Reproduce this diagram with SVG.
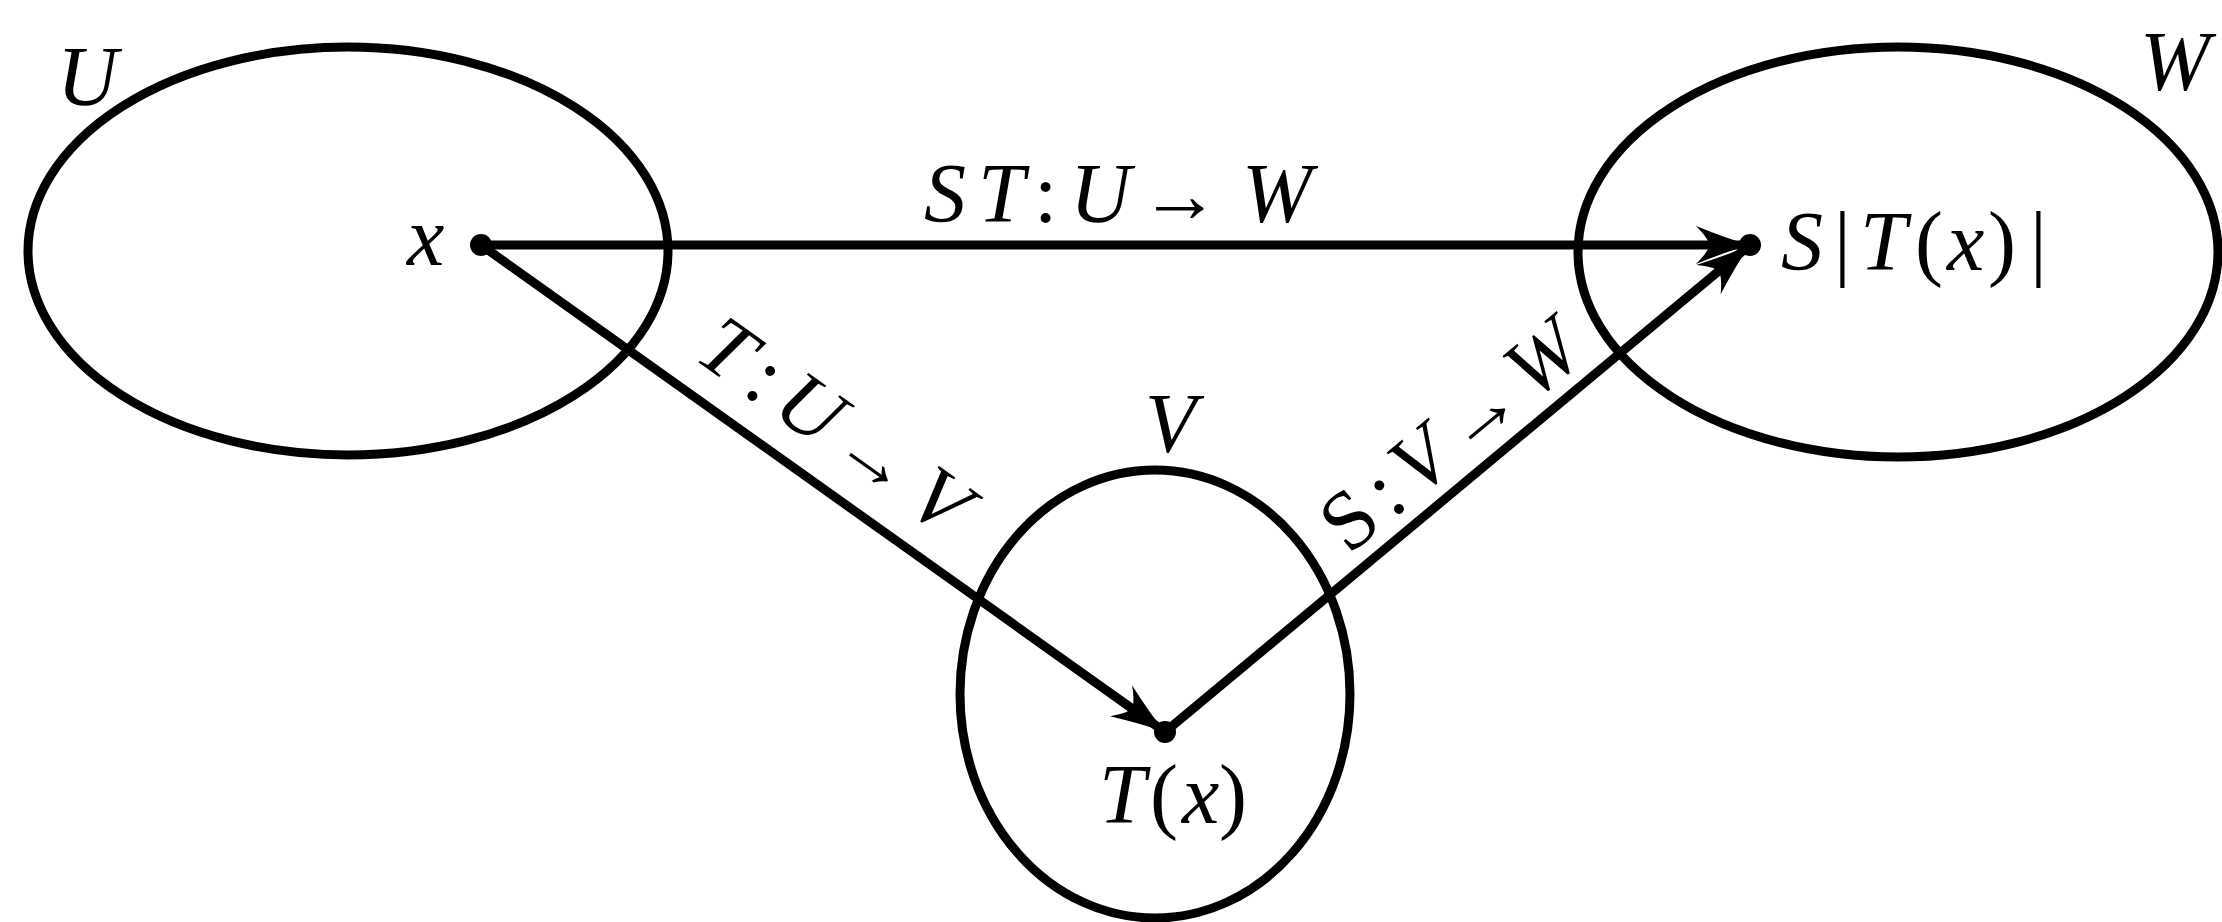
<svg xmlns="http://www.w3.org/2000/svg" width="2222" height="922" viewBox="0 0 2222 922">
<defs>
<style>
.set{fill:none;stroke:#000;stroke-width:9}
.edge{fill:none;stroke:#000;stroke-width:9}
.dot{fill:#000}
</style>
<marker id="ah" viewBox="-60 -25 70 50" refX="0" refY="0" markerWidth="70" markerHeight="50" markerUnits="userSpaceOnUse" orient="auto" overflow="visible">
<path d="M0,0 Q-22,-6 -54,-19 Q-41,-6 -41,0 Q-41,6 -54,19 Q-22,6 0,0 Z" fill="#000"/>
</marker>
</defs>
<rect width="2222" height="922" fill="#fff"/>
<g id="U">
<ellipse class="set" cx="348" cy="251" rx="320" ry="204"/>
<text font-family="Liberation Serif" font-style="italic" font-size="84" x="57" y="105">U</text>
</g>
<g id="W">
<ellipse class="set" cx="1898" cy="252" rx="320" ry="205"/>
<text font-family="Liberation Serif" font-style="italic" font-size="84" x="2140" y="90">W</text>
</g>
<g id="V">
<ellipse class="set" cx="1155" cy="694" rx="195" ry="224"/>
<text font-family="Liberation Serif" font-style="italic" font-size="84" x="1145" y="452">V</text>
</g>
<g id="connectors">
<line class="edge" x1="481" y1="245" x2="1750" y2="245" marker-end="url(#ah)"/>
<line class="edge" x1="481" y1="245" x2="1165" y2="732" marker-end="url(#ah)"/>
<line class="edge" x1="1165" y1="732" x2="1750" y2="245" marker-end="url(#ah)"/>
<text font-family="Liberation Serif" font-style="italic" font-size="84" y="222"><tspan x="924">S</tspan><tspan x="978">T</tspan><tspan font-style="normal" x="1034">:</tspan><tspan x="1070">U</tspan><tspan font-style="normal" font-size="80" x="1140">→</tspan><tspan x="1242">W</tspan></text>
<g transform="translate(835,425) rotate(35.45)">
<text font-family="Liberation Serif" font-style="italic" font-size="84" x="0" y="28" text-anchor="middle" textLength="310" lengthAdjust="spacing">T<tspan font-style="normal">:</tspan>U<tspan font-style="normal" font-size="78">→</tspan>V</text>
</g>
<g transform="translate(1450,435) rotate(-39.78)">
<text font-family="Liberation Serif" font-style="italic" font-size="84" x="0" y="28" text-anchor="middle" textLength="310" lengthAdjust="spacing"><tspan font-style="normal">S:</tspan>V<tspan font-style="normal" font-size="78">→</tspan>W</text>
</g>
</g>
<g id="x">
<circle class="dot" cx="481" cy="245" r="11"/>
<text font-family="Liberation Serif" font-style="italic" font-size="84" x="407" y="265">x</text>
</g>
<g id="Tx">
<circle class="dot" cx="1165" cy="732" r="11"/>
<text font-family="Liberation Serif" font-style="italic" font-size="84" y="823"><tspan x="1099">T</tspan><tspan font-style="normal" x="1150">(</tspan><tspan x="1182">x</tspan><tspan font-style="normal" x="1219">)</tspan></text>
</g>
<g id="STx">
<circle class="dot" cx="1750" cy="245" r="11"/>
<text font-family="Liberation Serif" font-style="italic" font-size="84" y="270"><tspan x="1781">S</tspan><tspan font-style="normal" x="1834">|</tspan><tspan x="1860">T</tspan><tspan font-style="normal" x="1915">(</tspan><tspan x="1947">x</tspan><tspan font-style="normal" x="1988">)</tspan><tspan font-style="normal" x="2030">|</tspan></text>
</g>
</svg>
